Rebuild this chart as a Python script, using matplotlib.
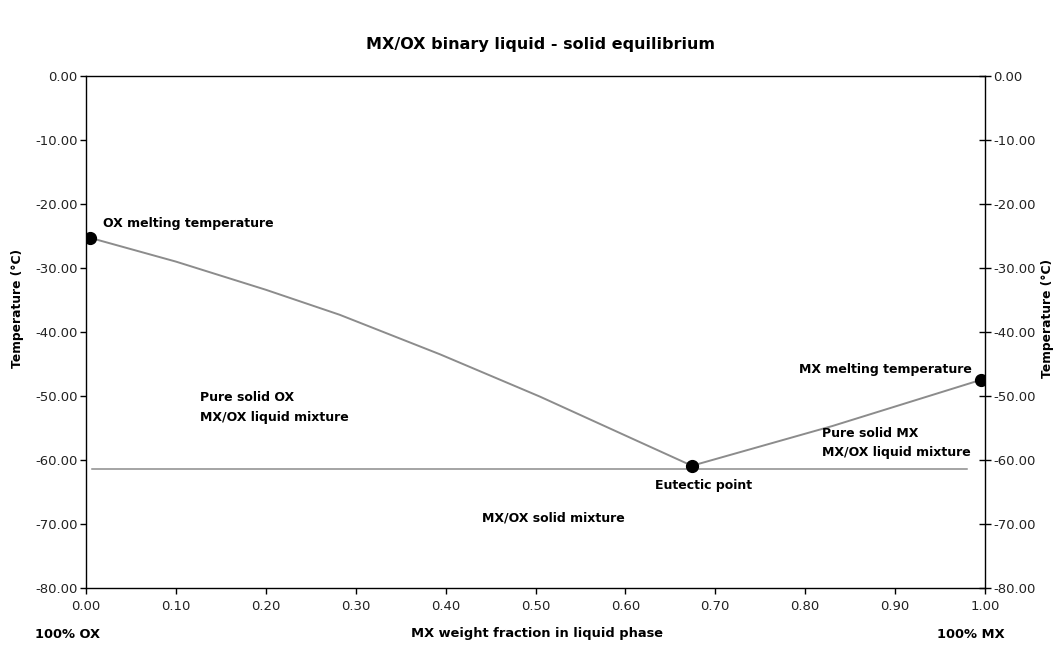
import matplotlib
matplotlib.use("Agg")
import matplotlib.pyplot as plt

plt.rcParams['font.family'] = ['DejaVu Sans']

# Liquidus curve on OX side (MX weight fraction, temperature °C)
ox_x = [0.005, 0.10, 0.20, 0.282, 0.394, 0.505, 0.616, 0.674]
ox_t = [-25.3, -29.0, -33.4, -37.3, -43.5, -50.1, -57.2, -60.9]
# Liquidus curve on MX side
mx_x = [0.674, 0.83, 0.995]
mx_t = [-60.9, -54.7, -47.5]
# Eutectic horizontal line
eut_x = [0.007, 0.98]
eut_t = [-61.4, -61.4]
# Marked points
pt_x = [0.005, 0.674, 0.995]
pt_t = [-25.3, -60.9, -47.5]

xticks = [0.0, 0.1, 0.2, 0.3, 0.4, 0.5, 0.6, 0.7, 0.8, 0.9, 1.0]
yticks = [0, -10, -20, -30, -40, -50, -60, -70, -80]

fig = plt.figure(figsize=(10.56, 6.45), dpi=100)
ax = fig.add_axes([86/1056, 1-588/645, (985-86)/1056, (588-76)/645])

line_color = '#8c8c8c'
ax.plot(ox_x, ox_t, color=line_color, lw=1.4, zorder=2)
ax.plot(mx_x, mx_t, color=line_color, lw=1.4, zorder=2)
ax.plot(eut_x, eut_t, color=line_color, lw=1.1, zorder=2)
ax.plot(pt_x, pt_t, 'o', color='black', ms=8.5, zorder=3)

ax.set_xlim(0, 1)
ax.set_ylim(-80, 0)
ax.set_xticks(xticks)
ax.set_xticklabels([f"{v:.2f}" for v in xticks])
ax.set_yticks(yticks)
ax.set_yticklabels([f"{v:.2f}" if v != 0 else "0.00" for v in yticks])
ax.tick_params(axis='both', labelsize=9.5, colors='black', width=1, length=4)
ax.tick_params(axis='y', right=True, labelright=True, direction='out', pad=2)
for t in ax.yaxis.get_major_ticks():
    t.tick2line.set_marker('_')
    t.tick2line.set_markersize(8)
ax.tick_params(axis='x', direction='out', pad=5)
for lab in ax.get_xticklabels() + ax.get_yticklabels():
    lab.set_color('#222222')
for s in ax.spines.values():
    s.set_linewidth(1.0)

bold = dict(fontsize=9, fontweight='bold', color='black')
ax.text(0.019, -23.1, "OX melting temperature", ha='left', va='center', **bold)
ax.text(0.127, -50.2, "Pure solid OX", ha='left', va='center', **bold)
ax.text(0.127, -53.3, "MX/OX liquid mixture", ha='left', va='center', **bold)
ax.text(0.9855, -45.9, "MX melting temperature", ha='right', va='center', **bold)
ax.text(0.819, -55.9, "Pure solid MX", ha='left', va='center', **bold)
ax.text(0.819, -58.9, "MX/OX liquid mixture", ha='left', va='center', **bold)
ax.text(0.633, -64.0, "Eutectic point", ha='left', va='center', **bold)
ax.text(0.44, -69.1, "MX/OX solid mixture", ha='left', va='center', **bold)

fig.text(541/1056, 1-45/645, "MX/OX binary liquid - solid equilibrium",
         ha='center', va='center', fontsize=11.5, fontweight='bold')
fig.text(537/1056, 1-634/645, "MX weight fraction in liquid phase",
         ha='center', va='center', fontsize=9.4, fontweight='bold')
fig.text(35/1056, 1-634/645, "100% OX", ha='left', va='center', fontsize=9.4, fontweight='bold')
fig.text(1005/1056, 1-634/645, "100% MX", ha='right', va='center', fontsize=9.4, fontweight='bold')
fig.text(18/1056, 1-308/645, "Temperature (°C)", ha='center', va='center',
         rotation=90, fontsize=8.8, fontweight='bold')
fig.text(1047/1056, 1-318/645, "Temperature (°C)", ha='center', va='center',
         rotation=90, fontsize=8.8, fontweight='bold')

fig.savefig("out.png", dpi=100, facecolor='white')
